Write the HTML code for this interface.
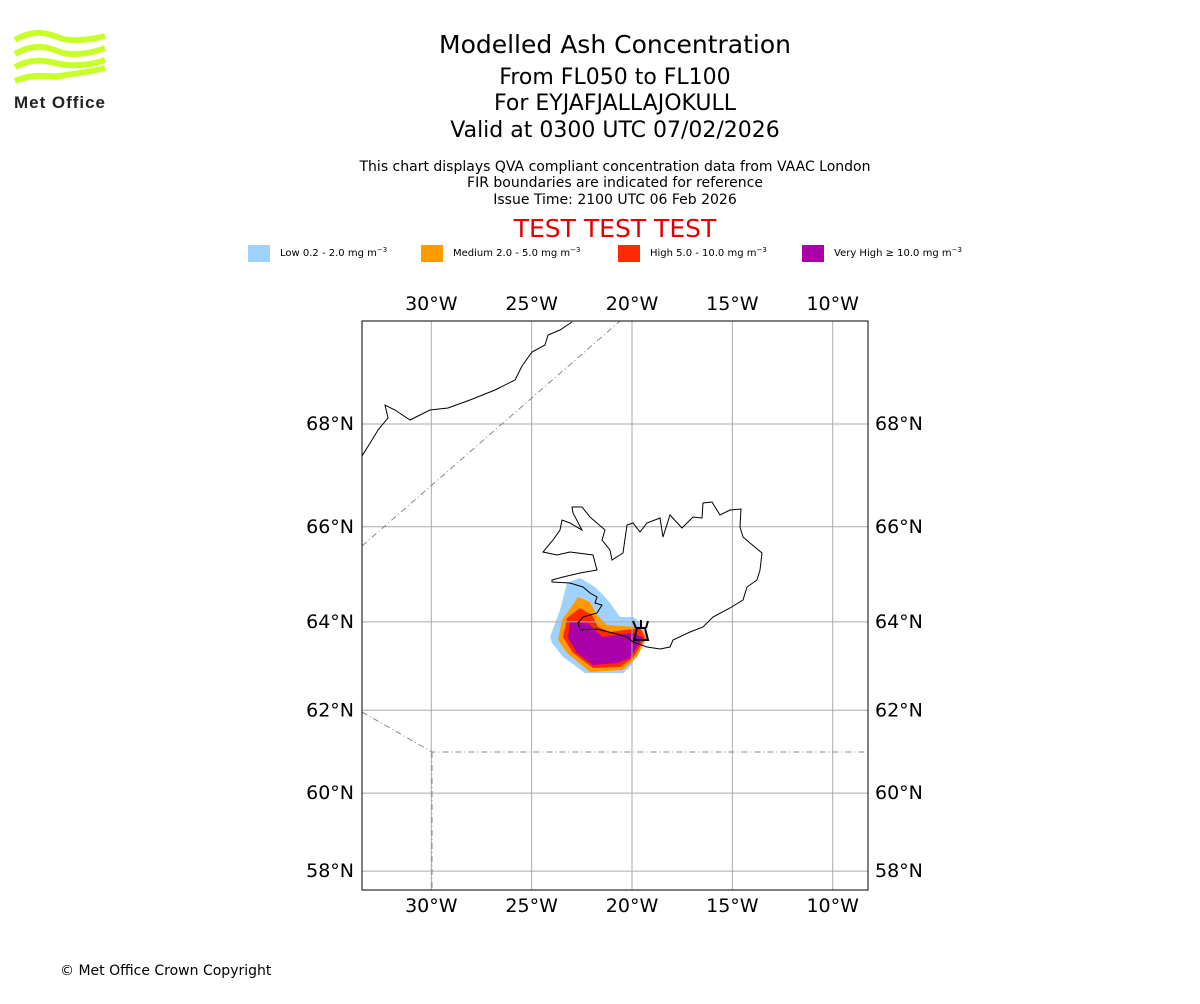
<!DOCTYPE html>
<html><head><meta charset="utf-8"><style>
body{margin:0;background:#fff;width:1200px;height:1000px;overflow:hidden;font-family:"DejaVu Sans","Liberation Sans",sans-serif;}
svg text{font-family:"DejaVu Sans","Liberation Sans",sans-serif;}
</style></head><body>
<svg width="1200" height="1000" xmlns="http://www.w3.org/2000/svg">
<g fill="none" stroke="#c8ff2a" stroke-width="6">
<path d="M15,40 C35,28 50,34 60,38 S90,40 105,36"/>
<path d="M15,54 C35,42 50,48 60,52 S90,54 105,48"/>
<path d="M15,67 C35,56 50,62 60,64 S90,66 105,60"/>
<path d="M15,81 C35,72 50,78 60,76 S90,72 105,68"/>
<text x="14" y="108" font-size="17" font-weight="bold" fill="#222" stroke="none" style="font-family:'Liberation Sans',sans-serif" textLength="91">Met Office</text>
</g>
<g text-anchor="middle" fill="#000">
<text x="615" y="53" font-size="25">Modelled Ash Concentration</text>
<text x="615" y="84" font-size="22">From FL050 to FL100</text>
<text x="615" y="110" font-size="22">For EYJAFJALLAJOKULL</text>
<text x="615" y="137" font-size="22">Valid at 0300 UTC 07/02/2026</text>
<text x="615" y="171" font-size="14">This chart displays QVA compliant concentration data from VAAC London</text>
<text x="615" y="187" font-size="14">FIR boundaries are indicated for reference</text>
<text x="615" y="204" font-size="14">Issue Time: 2100 UTC 06 Feb 2026</text>
<text x="615" y="237" font-size="25" fill="#e00000">TEST TEST TEST</text>
</g>
<g id="legend" font-size="10"></g>
<g id="map"></g>
<text x="60" y="975" font-size="14">© Met Office Crown Copyright</text>
</svg>
<script>
const legendLabels=["Low 0.2 - 2.0 mg m","Medium 2.0 - 5.0 mg m","High 5.0 - 10.0 mg m","Very High \u2265 10.0 mg m"];
const legendColors=["#a0d2ff","#ff9a00","#ff2a00","#aa00aa"];
const legendX=[248,421,618,802];
const lonTicks=[-30,-25,-20,-15,-10];
const latTicks=[68,66,64,62,60,58];
const NS="http://www.w3.org/2000/svg";
function mk(t,a,p){const e=document.createElementNS(NS,t);for(const k in a)e.setAttribute(k,a[k]);p.appendChild(e);return e;}
const lg=document.getElementById('legend');
legendLabels.forEach((l,i)=>{
 const r=mk('rect',{x:legendX[i],y:245,width:22,height:17,fill:legendColors[i]},lg);
 
 
 const t=mk('text',{x:legendX[i]+32,y:256},lg);
 
 
 t.textContent=l;
 const s=mk('tspan',{dy:-4,'font-size':7},t);s.textContent='\u22123';
});
const L=362,R=868,T=321,B=890;
function merc(lat){return Math.log(Math.tan(Math.PI/4+lat*Math.PI/360));}
function xs(lon){return 632+(lon+20)*20.07;}
function ys(lat){return 424+(merc(68)-merc(lat))*1150;}
const m=document.getElementById('map');
const clip=mk('clipPath',{id:'cp'},m);mk('rect',{x:L,y:T,width:R-L,height:B-T},clip);
const g=mk('g',{'clip-path':'url(#cp)'},m);
function poly(pts,fill,name){const p=mk('polygon',{points:pts,fill:fill},g);}
poly("567,583 580,578 595,587 605,597 610,603 620,617 633,617 640,622 648,637 640,650 630,667 623,673 585,673 563,657 552,643 550,637 560,610","#a0d2ff","ash-low");
poly("578,597 590,602 597,615 607,625 640,627 647,637 637,657 623,670 590,672 567,653 558,640 562,620","#ff9a00","ash-medium");
poly("580,608 592,615 598,627 610,632 640,628 645,638 633,658 620,667 593,668 573,653 563,637 567,618","#ff2a00","ash-high");
poly("570,622 588,623 602,637 633,633 643,638 630,658 617,663 593,665 577,653 568,638","#aa00aa","ash-very-high");
lonTicks.forEach(v=>{const l=mk('line',{x1:xs(v),x2:xs(v),y1:T,y2:B,stroke:'#aaa','stroke-width':1},g);});
latTicks.forEach(v=>{const l=mk('line',{x1:L,x2:R,y1:ys(v),y2:ys(v),stroke:'#aaa','stroke-width':1},g);});
const coast={fill:'none',stroke:'#000','stroke-width':1};
const ice=mk('polygon',Object.assign({points:"552,582 570,583 583,587 590,593 597,597 595,603 602,605 597,613 583,617 578,623 580,630 597,629 613,633 627,637 633,642 647,647 660,649 670,647 673,640 690,632 703,627 713,617 730,608 743,600 747,587 757,580 760,570 762,553 750,543 743,537 740,527 741,509 730,510 720,515 712,502 703,503 702,518 693,517 687,523 682,528 670,515 663,537 660,518 647,523 640,532 633,523 627,525 623,553 612,560 610,550 602,540 605,530 590,517 582,507 572,507 573,513 582,530 570,523 562,520 560,530 553,540 543,552 557,555 570,552 593,555 597,570 580,573 563,577 552,580"},coast),g);

const gr=mk('polyline',Object.assign({points:"362,456 372,440 378,430 388,418 385,405 395,410 410,420 430,410 448,408 470,400 495,390 515,380 522,366 532,352 545,345 548,335 560,330 572,322"},coast),g);

const fir={fill:'none',stroke:'#888','stroke-width':1,'stroke-dasharray':'6,3,1,3'};
const f1=mk('polyline',Object.assign({points:"362,546 620,321"},fir),g);
const f2=mk('polyline',Object.assign({points:"362,712 432,752 868,752"},fir),g);
const f3=mk('polyline',Object.assign({points:"432,752 432,890"},fir),g);
const vol=mk('g',{stroke:'#000','stroke-width':2,fill:'none'},g);

mk('polygon',{points:"637,628 645,628 648,640 634,640"},vol);
mk('line',{x1:636,y1:628,x2:633,y2:621},vol);mk('line',{x1:641,y1:628,x2:641,y2:620},vol);mk('line',{x1:646,y1:628,x2:648,y2:621},vol);
const fr=mk('rect',{x:L,y:T,width:R-L,height:B-T,fill:'none',stroke:'#000','stroke-width':1},m);

lonTicks.forEach(v=>{[310,912].forEach(y=>{const t=mk('text',{x:xs(v),y:y,'font-size':19,'text-anchor':'middle'},m);t.textContent=Math.abs(v)+'°W';});});
latTicks.forEach(v=>{const a=mk('text',{x:354,y:ys(v)+6,'font-size':19,'text-anchor':'end'},m);a.textContent=v+'°N';
const b=mk('text',{x:875,y:ys(v)+6,'font-size':19},m);b.textContent=v+'°N';});
</script>
</body></html>
